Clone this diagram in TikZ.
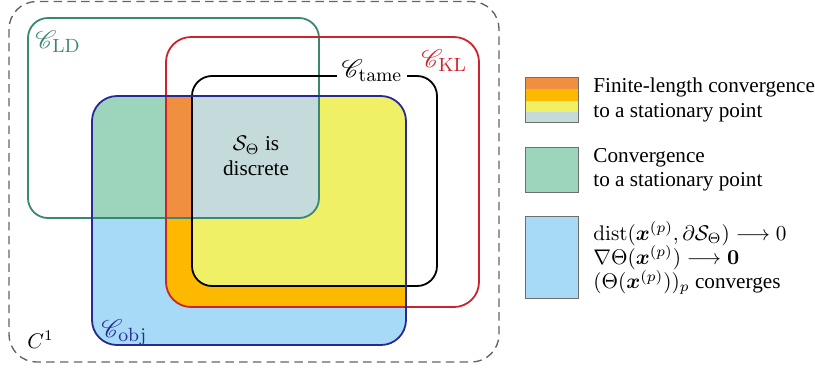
\RequirePackage{fix-cm}
\documentclass[tikz,border=0pt]{standalone}
\usepackage{amsmath,bm}
\usepackage{mathrsfs}
\usepackage[no-math]{fontspec}
\setmainfont{Liberation Serif}
\definecolor{objfill}{RGB}{166,218,247}
\definecolor{objline}{RGB}{40,40,150}
\definecolor{ldfill}{RGB}{157,212,188}
\definecolor{ldline}{RGB}{58,135,115}
\definecolor{klfill}{RGB}{253,184,0}
\definecolor{kldark}{RGB}{240,143,64}
\definecolor{tamefill}{RGB}{240,240,102}
\definecolor{grayfill}{RGB}{196,218,219}
\definecolor{klline}{RGB}{205,35,45}
\definecolor{dashgray}{RGB}{100,100,100}
\definecolor{legline}{RGB}{110,110,110}
\begin{document}
\begin{tikzpicture}[x=0.4717pt,y=-0.4717pt,
  every node/.style={font=\fontsize{10}{11.5}\selectfont, inner sep=0pt},
  setline/.style={line width=0.85pt},
  legbox/.style={draw=legline, line width=0.5pt},
  legtext/.style={anchor=west, align=left},
  lbl/.style={anchor=base west},
  setlbl/.style={font=\fontsize{12.9}{15}\selectfont}]
\useasboundingbox (0,0) rectangle (815,370);
% fills
\begin{scope}
  \clip[rounded corners=11.8pt] (92,96) rectangle (406,345);
  \fill[objfill] (92,96) rectangle (406,345);
  \fill[ldfill, rounded corners=9.4pt] (28,18) rectangle (319,218);
  \fill[klfill, rounded corners=11.8pt] (166,37) rectangle (479,307);
  \fill[tamefill, rounded corners=9.4pt] (192,76) rectangle (437,286);
  \begin{scope}
    \clip[rounded corners=9.4pt] (28,18) rectangle (319,218);
    \fill[kldark, rounded corners=11.8pt] (166,37) rectangle (479,307);
    \fill[grayfill, rounded corners=9.4pt] (192,76) rectangle (437,286);
  \end{scope}
\end{scope}
% outlines
\draw[dashgray, line width=0.65pt, dash pattern=on 4pt off 2.5pt, rounded corners=13pt] (9,1.5) rectangle (499,362);
\draw[setline, ldline, rounded corners=9.4pt] (28,18) rectangle (319,218);
\draw[setline, klline, rounded corners=11.8pt] (166,37) rectangle (479,307);
\draw[setline, black, rounded corners=9.4pt] (192,76) rectangle (437,286);
\draw[setline, objline, rounded corners=11.8pt] (92,96) rectangle (406,345);
% labels
\node[lbl, setlbl, text=ldline] (ld) at (35,48) {$\mathscr{C}_{\mathrm{LD}}$};
\node[lbl, setlbl, text=klline] (kl) at (421,67) {$\mathscr{C}_{\mathrm{KL}}$};
\node[anchor=base, setlbl, fill=white, inner xsep=2pt, inner ysep=1pt] (tame) at (372,77) {$\mathscr{C}_{\mathrm{tame}}$};
\node[lbl, setlbl, text=objline] (obj) at (101,337) {$\mathscr{C}_{\mathrm{obj}}$};
\node[lbl] (c1) at (27,348) {$C^1$};
\node[align=center] (disc) at (256,156) {$\mathcal{S}_\Theta$ is\\discrete};
% legend
\fill[kldark] (525,77) rectangle (578,89);
\fill[klfill] (525,89) rectangle (578,101);
\fill[tamefill] (525,101) rectangle (578,112);
\fill[grayfill] (525,112) rectangle (578,122);
\node[legbox, minimum width=53*0.4717pt, minimum height=45*0.4717pt, anchor=north west] (box1) at (525,77) {};
\node[legbox, fill=ldfill, minimum width=53*0.4717pt, minimum height=45*0.4717pt, anchor=north west] (box2) at (525,147) {};
\node[legbox, fill=objfill, minimum width=53*0.4717pt, minimum height=82*0.4717pt, anchor=north west] (box3) at (525,216) {};
\node[legtext] (t1) at (593,100) {Finite-length convergence\\to a stationary point};
\node[legtext] (t2) at (593,170) {Convergence\\to a stationary point};
\node[legtext] (t3) at (593,258) {$\mathrm{dist}(\bm{x}^{(p)},\partial\mathcal{S}_\Theta)\longrightarrow 0$\\$\nabla\Theta(\bm{x}^{(p)})\longrightarrow \mathbf{0}$\\$(\Theta(\bm{x}^{(p)}))_p$ converges};
\end{tikzpicture}
\end{document}
